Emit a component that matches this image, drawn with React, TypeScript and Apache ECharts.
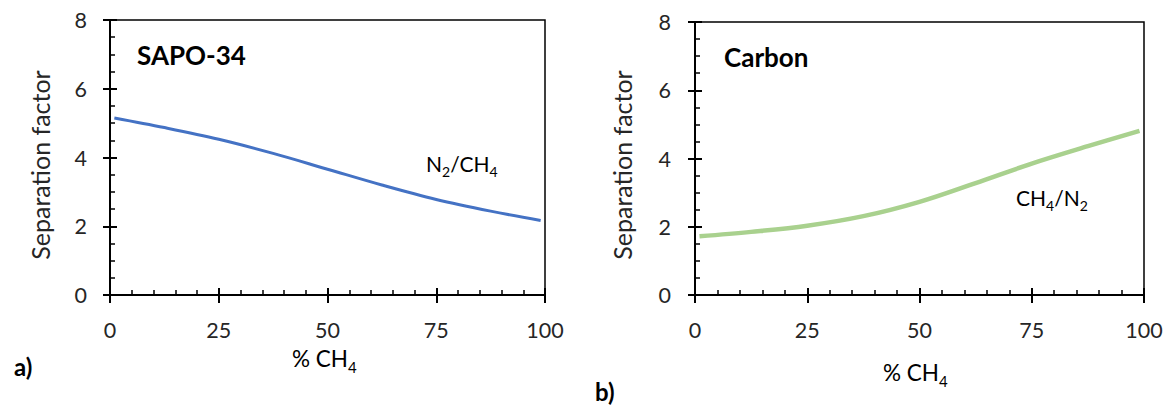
import React, { useEffect, useRef } from "react";
import * as echarts from "echarts";

const xTicks = [0, 25, 50, 75, 100];
const yTicks = [0, 2, 4, 6, 8];
const pctCH4 = [1, 12.5, 25, 37.5, 50, 62.5, 75, 87.5, 99];
const sapoN2CH4 = [5.15, 4.87, 4.53, 4.12, 3.66, 3.2, 2.78, 2.44, 2.17];
const carbonCH4N2 = [1.72, 1.85, 2.03, 2.31, 2.73, 3.28, 3.85, 4.36, 4.81];

const FONT = "Lato, 'Open Sans', sans-serif";
const TXT = "#262626";

const richSub = {
  m: { fontSize: 21, fontFamily: FONT, color: TXT, verticalAlign: "bottom", padding: [0, 0, 4, 0] },
  s: { fontSize: 14, fontFamily: FONT, color: TXT, verticalAlign: "bottom" },
};
const richTitle = {
  m: { fontSize: 22.5, fontFamily: FONT, color: TXT, verticalAlign: "bottom", padding: [0, 0, 4, 0] },
  s: { fontSize: 15, fontFamily: FONT, color: TXT, verticalAlign: "bottom" },
};

function axesFor(gridIndex: number) {
  const xMin = xTicks[0];
  const xMax = xTicks[xTicks.length - 1];
  const xInt = xTicks[1] - xTicks[0];
  const yMin = yTicks[0];
  const yMax = yTicks[yTicks.length - 1];
  const yInt = yTicks[1] - yTicks[0];
  const line = { show: true, lineStyle: { color: "#000", width: 2 } };
  const xs = [
    {
      type: "value", gridIndex, position: "bottom", min: xMin, max: xMax, interval: xInt,
      axisLine: line,
      axisTick: { show: true, inside: false, length: 8, lineStyle: { color: "#000", width: 2 } },
      axisLabel: { margin: 24, fontSize: 21.5, fontFamily: FONT, color: TXT },
      splitLine: { show: false },
    },
    {
      type: "value", gridIndex, position: "bottom", min: xMin, max: xMax, interval: xInt,
      axisLine: { show: false },
      axisTick: { show: true, inside: true, length: 7, lineStyle: { color: "#000", width: 2 } },
      minorTick: { show: true, splitNumber: 5, length: 5, lineStyle: { color: "#000", width: 1.5 } },
      axisLabel: { show: false },
      splitLine: { show: false },
    },
  ];
  const ys = [
    {
      type: "value", gridIndex, position: "left", min: yMin, max: yMax, interval: yInt,
      axisLine: line,
      axisTick: { show: true, inside: false, length: 7, lineStyle: { color: "#000", width: 2 } },
      axisLabel: { margin: gridIndex === 0 ? 23 : 24, fontSize: 21.5, fontFamily: FONT, color: TXT },
      splitLine: { show: false },
    },
    {
      type: "value", gridIndex, position: "left", min: yMin, max: yMax, interval: yInt,
      axisLine: { show: false },
      axisTick: { show: true, inside: true, length: 7, lineStyle: { color: "#000", width: 2 } },
      minorTick: { show: true, splitNumber: 4, length: 5, lineStyle: { color: "#000", width: 1.5 } },
      axisLabel: { show: false },
      splitLine: { show: false },
    },
  ];
  return { xs, ys };
}

export default function App() {
  const ref = useRef<HTMLDivElement>(null);
  useEffect(() => {
    document.body.style.margin = "0";
    if (!ref.current) return;
    const chart = echarts.init(ref.current, undefined, { renderer: "svg" });
    const a = axesFor(0);
    const b = axesFor(1);
    const option = {
      animation: false,
      backgroundColor: "#fff",
      grid: [
        { left: 110, top: 20, width: 435, height: 275, show: true, borderColor: "#000", borderWidth: 1.5, backgroundColor: "transparent" },
        { left: 695, top: 22, width: 449, height: 273, show: true, borderColor: "#000", borderWidth: 1.5, backgroundColor: "transparent" },
      ],
      xAxis: [...a.xs, ...b.xs],
      yAxis: [...a.ys, ...b.ys],
      series: [
        {
          type: "line", xAxisIndex: 0, yAxisIndex: 0, smooth: 0.35, showSymbol: false,
          data: pctCH4.map((x, i) => [x, sapoN2CH4[i]]),
          lineStyle: { color: "#4472C4", width: 3 },
          z: 1,
        },
        {
          type: "line", xAxisIndex: 2, yAxisIndex: 2, smooth: 0.35, showSymbol: false,
          data: pctCH4.map((x, i) => [x, carbonCH4N2[i]]),
          lineStyle: { color: "#A9D18E", width: 4.5 },
          z: 1,
        },
      ],
      graphic: [
        { type: "text", left: 137, top: 42, style: { text: "SAPO-34", font: `bold 26px ${FONT}`, fill: "#000" } },
        { type: "text", left: 724, top: 44, style: { text: "Carbon", font: `bold 26px ${FONT}`, fill: "#000" } },
        { type: "text", left: 426, top: 153, style: { text: "{m|N}{s|2}{m|/CH}{s|4}", rich: richSub } },
        { type: "text", left: 1016, top: 187, style: { text: "{m|CH}{s|4}{m|/N}{s|2}", rich: richSub } },
        { type: "text", left: 292, top: 347, style: { text: "{m|% CH}{s|4}", rich: richTitle } },
        { type: "text", left: 883, top: 361, style: { text: "{m|% CH}{s|4}", rich: richTitle } },
        {
          type: "text", x: 40, y: 165, rotation: Math.PI / 2,
          style: { text: "Separation factor", font: `25px ${FONT}`, fill: TXT, align: "center", verticalAlign: "middle" },
        },
        {
          type: "text", x: 622, y: 165, rotation: Math.PI / 2,
          style: { text: "Separation factor", font: `25px ${FONT}`, fill: TXT, align: "center", verticalAlign: "middle" },
        },
        { type: "text", left: 14, top: 354, style: { text: "a)", font: `bold 24px ${FONT}`, fill: "#000" } },
        { type: "text", left: 595, top: 379, style: { text: "b)", font: `bold 24px ${FONT}`, fill: "#000" } },
      ],
    };
    chart.setOption(option as any);
    return () => chart.dispose();
  }, []);
  return <div ref={ref} style={{ width: 1170, height: 407 }} />;
}
